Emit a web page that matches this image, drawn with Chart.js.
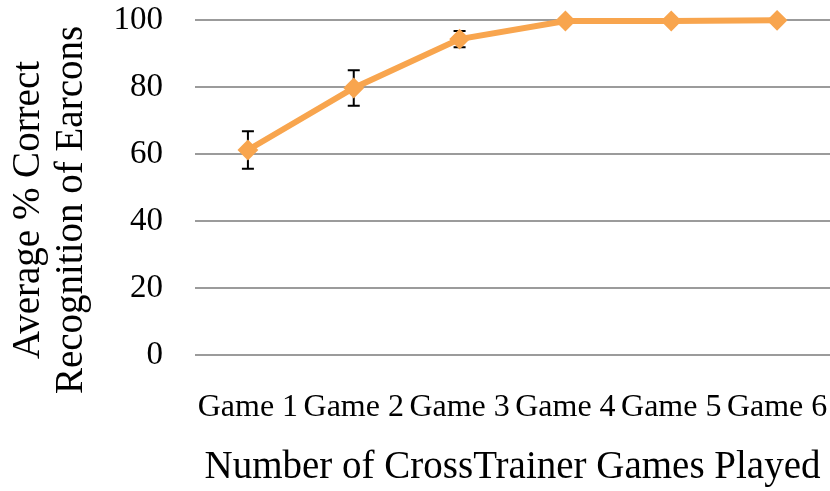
<!DOCTYPE html>
<html>
<head>
<meta charset="utf-8">
<script src="https://cdn.jsdelivr.net/npm/chart.js@4/dist/chart.umd.min.js"></script>
<style>
  html, body { margin: 0; padding: 0; background: #fff; }
  #wrap { width: 830px; height: 491px; }
</style>
</head>
<body>
<div id="wrap"><canvas id="chart" width="830" height="491"></canvas></div>
<script>
var games = ["Game 1", "Game 2", "Game 3", "Game 4", "Game 5", "Game 6"];
var recognition = [61.2, 79.7, 94.3, 99.7, 99.7, 99.9];
var errors = [5.6, 5.3, 2.4, 0, 0, 0];
var yTicks = [0, 20, 40, 60, 80, 100];
var yTitle = ['Average % Correct', 'Recognition of Earcons'];

var serif = "'Liberation Serif', 'Times New Roman', serif";
var orange = '#F8A54E';

// vertical error bars with caps, drawn under the line and markers
var errorBars = {
    id: 'errorBars',
    beforeDatasetsDraw: function (chart) {
        var ctx = chart.ctx;
        var x = chart.scales.x, y = chart.scales.y;
        ctx.save();
        ctx.strokeStyle = '#000';
        ctx.lineWidth = 2;
        for (var i = 0; i < recognition.length; i++) {
            if (!errors[i]) continue;
            var px = x.getPixelForValue(i);
            var top = y.getPixelForValue(recognition[i] + errors[i]);
            var bot = y.getPixelForValue(recognition[i] - errors[i]);
            ctx.beginPath();
            ctx.moveTo(px, top); ctx.lineTo(px, bot);
            ctx.moveTo(px - 6, top); ctx.lineTo(px + 6, top);
            ctx.moveTo(px - 6, bot); ctx.lineTo(px + 6, bot);
            ctx.stroke();
        }
        ctx.restore();
    }
};

// two-line rotated y title, centred a little below the plot middle
var yAxisTitle = {
    id: 'yAxisTitle',
    afterDraw: function (chart) {
        var ctx = chart.ctx;
        ctx.save();
        ctx.translate(0, 210);
        ctx.rotate(-Math.PI / 2);
        ctx.fillStyle = '#000';
        ctx.font = '39px ' + serif;
        ctx.textAlign = 'center';
        ctx.textBaseline = 'middle';
        ctx.fillText(yTitle[0], 0, 29);
        ctx.fillText(yTitle[1], 0, 72);
        ctx.restore();
    }
};

var chart = new Chart(document.getElementById('chart'), {
    type: 'line',
    data: {
        labels: games,
        datasets: [{
            data: recognition,
            borderColor: orange,
            backgroundColor: orange,
            borderWidth: 6,
            pointStyle: 'rectRot',
            pointRadius: 9,
            pointBorderWidth: 2,
            pointBackgroundColor: orange,
            pointBorderColor: orange,
            tension: 0,
            clip: false
        }]
    },
    options: {
        responsive: false,
        animation: false,
        layout: { autoPadding: false, padding: { top: 20, right: 0, bottom: 0, left: 0 } },
        plugins: {
            legend: { display: false },
            tooltip: { enabled: false }
        },
        scales: {
            x: {
                offset: true,
                grid: { display: false, drawTicks: false },
                border: { display: false },
                ticks: {
                    color: '#000',
                    padding: 33,
                    maxRotation: 0,
                    autoSkip: false,
                    font: { family: serif, size: 32 }
                },
                title: {
                    display: true,
                    text: 'Number of CrossTrainer Games Played',
                    color: '#000',
                    padding: { top: 0, bottom: 0 },
                    font: { family: serif, size: 39 }
                },
                afterFit: function (scale) {
                    scale.height = 136;
                    scale.paddingLeft = 0;
                    scale.paddingRight = 0;
                }
            },
            y: {
                min: 0,
                max: 100,
                afterBuildTicks: function (scale) {
                    scale.ticks = yTicks.map(function (v) { return { value: v }; });
                },
                grid: { color: '#9B9B9B', lineWidth: 2, drawTicks: false },
                border: { display: false },
                ticks: {
                    color: '#000',
                    padding: 32,
                    font: { family: serif, size: 33 }
                },
                afterFit: function (scale) {
                    scale.width = 195;
                    scale.paddingTop = 0;
                    scale.paddingBottom = 0;
                }
            }
        }
    },
    plugins: [errorBars, yAxisTitle]
});
</script>
</body>
</html>
